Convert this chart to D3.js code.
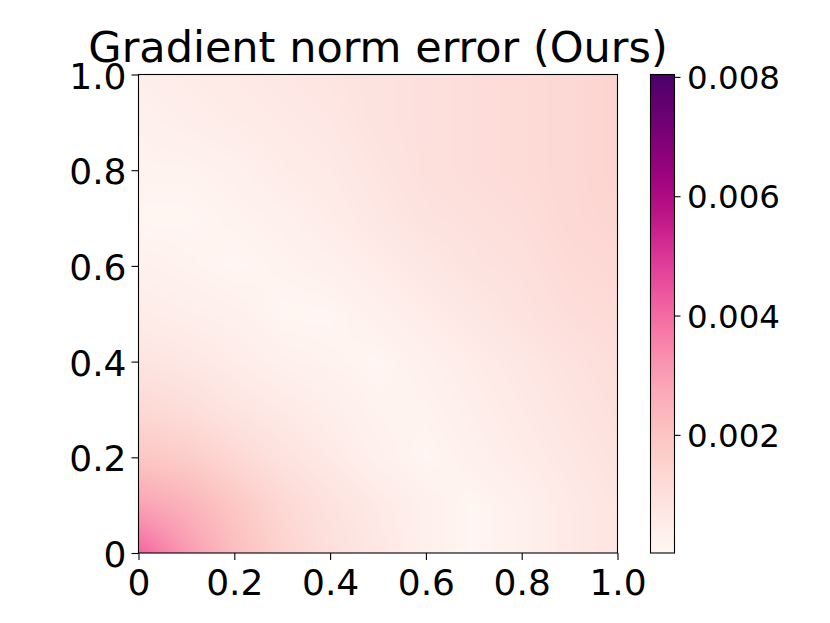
<!DOCTYPE html>
<html>
<head>
<meta charset="utf-8">
<script src="https://cdn.jsdelivr.net/npm/d3@7"></script>
<style>
  html, body { margin: 0; padding: 0; background: #fff; }
  svg text { font-family: "DejaVu Sans", sans-serif; fill: #000; }
</style>
</head>
<body>
<svg id="chart" width="830" height="623"></svg>
<script>
// ---- data ----
const xGrid = [0, 0.1, 0.2, 0.3, 0.4, 0.5, 0.6, 0.7, 0.8, 0.9, 1.0];
const yGrid = [1.0, 0.9, 0.8, 0.7, 0.6, 0.5, 0.4, 0.3, 0.2, 0.1, 0.0]; // rows top -> bottom
const errRow10 = [0.0004,0.0005,0.0006,0.0007,0.0008,0.0009,0.0010,0.0011,0.0012,0.0013,0.0015];
const errRow09 = [0.0003,0.0004,0.0005,0.0006,0.0007,0.0009,0.0010,0.0011,0.0012,0.0013,0.0015];
const errRow08 = [0.0002,0.0002,0.0003,0.0005,0.0006,0.0008,0.0010,0.0011,0.0012,0.0013,0.0015];
const errRow07 = [0.0001,0.0001,0.0002,0.0003,0.0005,0.0007,0.0009,0.0010,0.0011,0.0013,0.0014];
const errRow06 = [0.0003,0.0002,0.0001,0.0002,0.0003,0.0005,0.0007,0.0009,0.0010,0.0012,0.0013];
const errRow05 = [0.0005,0.0004,0.0003,0.0001,0.0001,0.0003,0.0005,0.0007,0.0009,0.0011,0.0012];
const errRow04 = [0.0008,0.0007,0.0005,0.0003,0.0002,0.0001,0.0003,0.0005,0.0007,0.0009,0.0011];
const errRow03 = [0.0013,0.0011,0.0008,0.0006,0.0004,0.0002,0.0002,0.0004,0.0006,0.0008,0.0010];
const errRow02 = [0.0019,0.0017,0.0013,0.0009,0.0006,0.0003,0.0001,0.0003,0.0005,0.0007,0.0009];
const errRow01 = [0.0029,0.0025,0.0019,0.0013,0.0009,0.0006,0.0003,0.0001,0.0003,0.0006,0.0008];
const errRow00 = [0.0041,0.0031,0.0022,0.0015,0.0010,0.0007,0.0003,0.0001,0.0003,0.0006,0.0008];
const errRows = [errRow10, errRow09, errRow08, errRow07, errRow06, errRow05,
                 errRow04, errRow03, errRow02, errRow01, errRow00];
const colorMin = 0.00002, colorMax = 0.00804;
const xTicks = [0, 0.2, 0.4, 0.6, 0.8, 1.0];
const xTickLabels = ["0", "0.2", "0.4", "0.6", "0.8", "1.0"];
const yTicks = [0, 0.2, 0.4, 0.6, 0.8, 1.0];
const yTickLabels = ["0", "0.2", "0.4", "0.6", "0.8", "1.0"];
const cbTicks = [0.002, 0.004, 0.006, 0.008];
const cbTickLabels = ["0.002", "0.004", "0.006", "0.008"];
const titleText = "Gradient norm error (Ours)";

// ---- layout ----
const svg = d3.select("#chart");
const L = 138.5, R = 617.5, T = 74.5, B = 553;
const cbL = 650.5, cbR = 674.5;

const x = d3.scaleLinear().domain([0, 1]).range([L, R]);
const y = d3.scaleLinear().domain([0, 1]).range([B, T]);
const color = d3.scaleSequential(d3.interpolateRdPu).domain([colorMin, colorMax]);

// bilinear lookup scales across grid
const colIdx = d3.scaleLinear().domain([0, 1]).range([0, xGrid.length - 1]).clamp(true);
const rowIdx = d3.scaleLinear().domain([1, 0]).range([0, yGrid.length - 1]).clamp(true);
function valueAt(xv, yv) {
  const c = colIdx(xv), r = rowIdx(yv);
  const c0 = Math.min(Math.floor(c), xGrid.length - 2), r0 = Math.min(Math.floor(r), yGrid.length - 2);
  const fc = c - c0, fr = r - r0;
  const a = errRows[r0][c0], b = errRows[r0][c0 + 1];
  const cc = errRows[r0 + 1][c0], d = errRows[r0 + 1][c0 + 1];
  const top = a + (b - a) * fc, bot = cc + (d - cc) * fc;
  return top + (bot - top) * fr;
}

// heatmap raster
const W = Math.round(R - L), H = Math.round(B - T);
const canvas = document.createElement("canvas");
canvas.width = W; canvas.height = H;
const ctx = canvas.getContext("2d");
const img = ctx.createImageData(W, H);
for (let j = 0; j < H; j++) {
  const yv = y.invert(T + j + 0.5);
  for (let i = 0; i < W; i++) {
    const xv = x.invert(L + i + 0.5);
    const c = d3.rgb(color(valueAt(xv, yv)));
    const k = 4 * (j * W + i);
    img.data[k] = c.r; img.data[k + 1] = c.g; img.data[k + 2] = c.b; img.data[k + 3] = 255;
  }
}
ctx.putImageData(img, 0, 0);
svg.append("image")
  .attr("x", x(0)).attr("y", y(1))
  .attr("width", x(1) - x(0)).attr("height", y(0) - y(1))
  .attr("preserveAspectRatio", "none")
  .attr("href", canvas.toDataURL());

// frame
svg.append("rect").attr("x", L).attr("y", T).attr("width", R - L).attr("height", B - T)
  .attr("fill", "none").attr("stroke", "#000").attr("stroke-width", 1.1);

// axes
const fs = 36, cbfs = 32.5;
const xAxis = svg.append("g").attr("transform", `translate(0,${B})`)
  .call(d3.axisBottom(x).tickValues(xTicks).tickSize(7).tickSizeOuter(0).tickPadding(9.5)
        .tickFormat((d, i) => xTickLabels[i]));
xAxis.select(".domain").remove();
xAxis.selectAll("line").attr("stroke", "#000").attr("stroke-width", 1.1);
xAxis.selectAll("text").attr("font-size", fs).attr("font-family", "DejaVu Sans");

const yAxis = svg.append("g").attr("transform", `translate(${L},0)`)
  .call(d3.axisLeft(y).tickValues(yTicks).tickSize(7).tickSizeOuter(0).tickPadding(5)
        .tickFormat((d, i) => yTickLabels[i]));
yAxis.select(".domain").remove();
yAxis.selectAll("line").attr("stroke", "#000").attr("stroke-width", 1.1);
yAxis.selectAll("text").attr("font-size", fs).attr("font-family", "DejaVu Sans").attr("dy", "0.38em");

// title
svg.append("text").attr("x", (L + R) / 2).attr("y", 62)
  .attr("text-anchor", "middle").attr("font-size", 43).attr("font-family", "DejaVu Sans")
  .text(titleText);

// colorbar
const cbY = d3.scaleLinear().domain([colorMin, colorMax]).range([B, T]);
const defs = svg.append("defs");
const grad = defs.append("linearGradient").attr("id", "cbgrad")
  .attr("x1", 0).attr("y1", 1).attr("x2", 0).attr("y2", 0);
d3.range(0, 1.0001, 0.02).forEach(t => {
  grad.append("stop").attr("offset", t).attr("stop-color", d3.interpolateRdPu(t));
});
svg.append("rect").attr("x", cbL).attr("y", cbY(colorMax)).attr("width", cbR - cbL)
  .attr("height", cbY(colorMin) - cbY(colorMax)).attr("fill", "url(#cbgrad)")
  .attr("stroke", "#000").attr("stroke-width", 1.1);
const cbAxis = svg.append("g").attr("transform", `translate(${cbR},0)`)
  .call(d3.axisRight(cbY).tickValues(cbTicks).tickSize(6).tickSizeOuter(0).tickPadding(6.5)
        .tickFormat((d, i) => cbTickLabels[i]));
cbAxis.select(".domain").remove();
cbAxis.selectAll("line").attr("stroke", "#000").attr("stroke-width", 1.1);
cbAxis.selectAll("text").attr("font-size", cbfs).attr("font-family", "DejaVu Sans").attr("dy", "0.36em");
</script>
</body>
</html>
